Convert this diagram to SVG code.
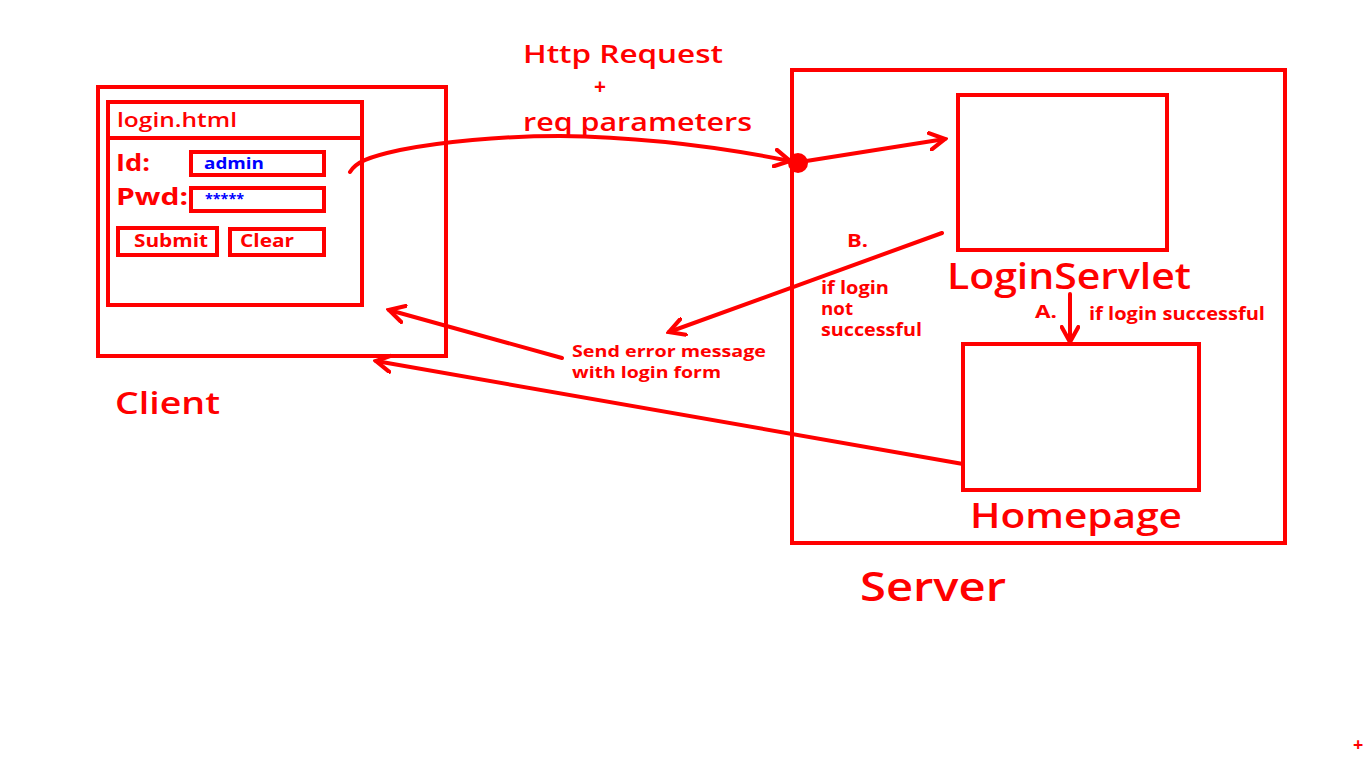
<svg xmlns="http://www.w3.org/2000/svg" width="1366" height="768" viewBox="0 0 1366 768">
<defs>
<style>
.box{fill:none;stroke:#ff0000;stroke-width:4}
.t{fill:#ff0000;font-family:"Open Sans","DejaVu Sans",sans-serif;font-weight:bold}
.m{fill:#ff0000;font-family:"Open Sans","DejaVu Sans",sans-serif;font-weight:600}
.b{fill:#0000ff;font-family:"Open Sans","DejaVu Sans",sans-serif;font-weight:bold}
.ln{fill:none;stroke:#ff0000;stroke-width:4;stroke-linecap:round}
</style>
<marker id="ah" viewBox="0 0 12 12" refX="10" refY="6" markerWidth="5" markerHeight="5" orient="auto" markerUnits="strokeWidth">
<path d="M1,1 L10,6 L1,11" fill="none" stroke="#ff0000" stroke-width="2.5" stroke-linecap="round"/>
</marker>
</defs>
<rect width="1366" height="768" fill="#ffffff"/>

<g id="client">
<rect class="box" x="98" y="87" width="348" height="269"/>
<text class="m" x="115" y="414" font-size="31" textLength="105" lengthAdjust="spacingAndGlyphs">Client</text>
</g>

<g id="login-form">
<rect class="box" x="108" y="102" width="254" height="203"/>
<line class="box" x1="108" y1="138" x2="362" y2="138"/>
<text class="m" x="117" y="127" font-size="19" textLength="120" lengthAdjust="spacingAndGlyphs">login.html</text>
<text class="t" x="116" y="171" font-size="24" textLength="34" lengthAdjust="spacingAndGlyphs">Id:</text>
<rect class="box" x="191" y="152" width="133" height="23" stroke-width="3.5"/>
<text class="b" x="204" y="169" font-size="16" textLength="60" lengthAdjust="spacingAndGlyphs">admin</text>
<text class="t" x="116" y="205" font-size="24" textLength="72" lengthAdjust="spacingAndGlyphs">Pwd:</text>
<rect class="box" x="191" y="188" width="133" height="23" stroke-width="3.5"/>
<text class="b" x="205" y="204" font-size="14" textLength="39" lengthAdjust="spacingAndGlyphs">*****</text>
<rect class="box" x="118" y="228" width="99" height="27" stroke-width="3.5"/>
<text class="t" x="134" y="247" font-size="17" textLength="74" lengthAdjust="spacingAndGlyphs">Submit</text>
<rect class="box" x="230" y="229" width="94" height="26" stroke-width="3.5"/>
<text class="t" x="240" y="247" font-size="17" textLength="54" lengthAdjust="spacingAndGlyphs">Clear</text>
</g>

<g id="server">
<rect class="box" x="792" y="70" width="493" height="473"/>
<text class="m" x="860" y="601" font-size="40" textLength="146" lengthAdjust="spacingAndGlyphs">Server</text>
</g>

<g id="loginservlet">
<rect class="box" x="958" y="95" width="209" height="155"/>
<text class="m" x="947" y="289" font-size="36" textLength="244" lengthAdjust="spacingAndGlyphs">LoginServlet</text>
</g>

<g id="homepage">
<rect class="box" x="963" y="344" width="236" height="146"/>
<text class="m" x="970" y="528" font-size="35" textLength="212" lengthAdjust="spacingAndGlyphs">Homepage</text>
</g>

<g id="labels">
<text class="m" x="523" y="63" font-size="26" textLength="200" lengthAdjust="spacingAndGlyphs">Http Request</text>
<text class="t" x="594" y="94" font-size="21">+</text>
<text class="m" x="523" y="131" font-size="26" textLength="229" lengthAdjust="spacingAndGlyphs">req parameters</text>
<text class="t" x="847" y="247" font-size="17" textLength="21" lengthAdjust="spacingAndGlyphs">B.</text>
<text class="t" x="821" y="294" font-size="17" textLength="68" lengthAdjust="spacingAndGlyphs">if login</text>
<text class="t" x="821" y="315" font-size="17" textLength="32" lengthAdjust="spacingAndGlyphs">not</text>
<text class="t" x="821" y="336" font-size="17" textLength="101" lengthAdjust="spacingAndGlyphs">successful</text>
<text class="t" x="1035" y="318" font-size="17" textLength="22" lengthAdjust="spacingAndGlyphs">A.</text>
<text class="t" x="1089" y="320" font-size="17" textLength="176" lengthAdjust="spacingAndGlyphs">if login successful</text>
<text class="t" x="572" y="357" font-size="16" textLength="194" lengthAdjust="spacingAndGlyphs">Send error message</text>
<text class="t" x="572" y="378" font-size="16" textLength="149" lengthAdjust="spacingAndGlyphs">with login form</text>
<text class="t" x="1353" y="751" font-size="18">+</text>
</g>

<g id="connectors">
<path class="ln" d="M350,172 C356,162 368,157 400,150 C440,142 500,136 560,136 C640,137 720,147 790,161" marker-end="url(#ah)"/>
<circle cx="798" cy="163" r="10" fill="#ff0000"/>
<line class="ln" x1="800" y1="162" x2="945" y2="139" marker-end="url(#ah)"/>
<line class="ln" x1="942" y1="233" x2="669" y2="332" marker-end="url(#ah)"/>
<line class="ln" x1="1070" y1="294" x2="1070" y2="342" marker-end="url(#ah)"/>
<line class="ln" x1="562" y1="358" x2="389" y2="310" marker-end="url(#ah)"/>
<line class="ln" x1="963" y1="464" x2="376" y2="361" marker-end="url(#ah)"/>
</g>
</svg>
